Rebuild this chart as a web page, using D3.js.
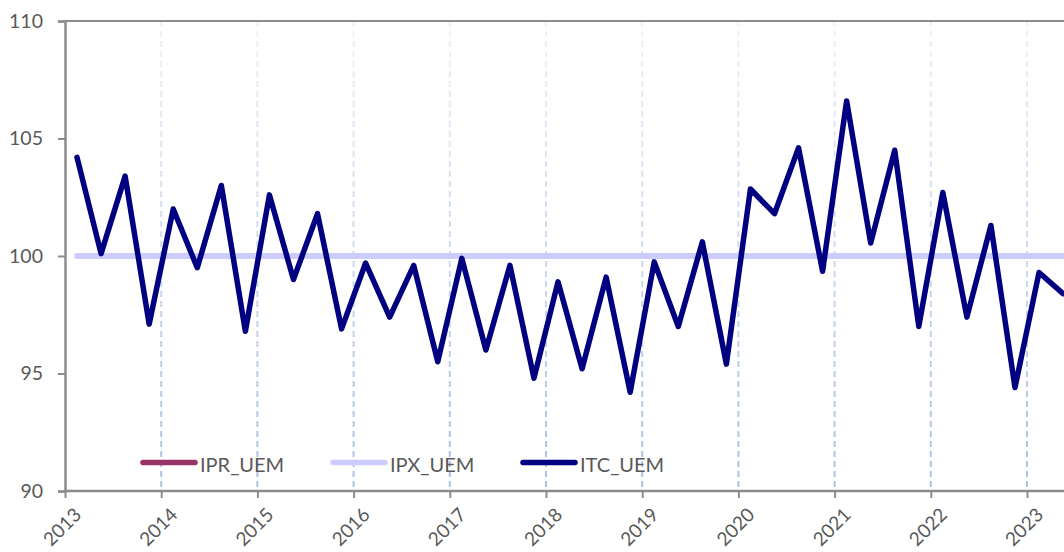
<!DOCTYPE html>
<html><head><meta charset="utf-8">
<script src="https://cdn.jsdelivr.net/npm/d3@7"></script>
<style>body{margin:0;background:#fff;}svg{display:block;}</style>
</head><body>
<svg id="c" width="1064" height="552"></svg>
<script>
const years = ["2013","2014","2015","2016","2017","2018","2019","2020","2021","2022","2023"];
const quarters = ["Q1","Q2","Q3","Q4"];
const yTicks = [90, 95, 100, 105, 110];
const seriesNames = ["IPR_UEM", "IPX_UEM", "ITC_UEM"];
const itc = [104.2,100.1,103.4,97.1,102.0,99.5,103.0,96.8,102.6,99.0,101.8,96.9,
  99.7,97.4,99.6,95.5,99.9,96.0,99.6,94.8,98.9,95.2,99.1,94.2,99.75,97.0,100.6,95.4,
  102.85,101.8,104.6,99.35,106.6,100.55,104.5,97.0,102.7,97.4,101.3,94.4,99.3,98.4];
const ipr = itc.map(() => 100);
const ipx = itc.map(() => 100);

const periods = [];
years.forEach(yr => quarters.forEach(q => periods.push(yr + q)));
const used = periods.slice(0, itc.length);

const svg = d3.select("#c");
const pL = 65, pT = 21, pB = 491, pR = 65 + 96.2 * 11;
const x = d3.scaleBand().domain(periods).range([pL, pR]);
const xYear = d3.scalePoint().domain(years).range([pL, pL + 96.2 * 10]);
const y = d3.scaleLinear().domain([90, 110]).range([pB, pT]);
const FONT = "Lato, 'Open Sans', sans-serif";

const defs = svg.append("defs");
const grad = defs.append("linearGradient").attr("id", "gg")
  .attr("gradientUnits", "userSpaceOnUse").attr("x1", 0).attr("y1", pT).attr("x2", 0).attr("y2", pB);
grad.append("stop").attr("offset", "0").attr("stop-color", "#eef3fa");
grad.append("stop").attr("offset", "1").attr("stop-color", "#a9c1df");

// vertical gridlines
svg.append("g").selectAll("line").data(years.slice(1)).join("line")
  .attr("x1", d => xYear(d)).attr("x2", d => xYear(d))
  .attr("y1", pT).attr("y2", pB)
  .attr("stroke", "url(#gg)").attr("stroke-width", 2).attr("stroke-dasharray", "6,4");

// top border
svg.append("line").attr("x1", pL).attr("x2", 1064).attr("y1", y(110)).attr("y2", y(110))
  .attr("stroke", "#8c8c8c").attr("stroke-width", 2);

// y axis
const ya = svg.append("g").attr("transform", `translate(${pL},0)`)
  .call(d3.axisLeft(y).tickValues(yTicks).tickSize(7).tickPadding(15));
ya.select(".domain").attr("stroke", "#8c8c8c").attr("stroke-width", 2.5);
ya.selectAll(".tick line").attr("stroke", "#8c8c8c").attr("stroke-width", 2);
ya.selectAll("text").attr("font-family", FONT).attr("font-size", 19.5).attr("fill", "#595959");

// x axis
const xa = svg.append("g").attr("transform", `translate(0,${pB})`)
  .call(d3.axisBottom(xYear).tickSize(7).tickSizeOuter(0));
xa.select(".domain").remove();
xa.append("line").attr("x1", pL).attr("x2", 1064).attr("stroke", "#8c8c8c").attr("stroke-width", 2.5);
xa.selectAll(".tick line").attr("stroke", "#8c8c8c").attr("stroke-width", 2);
xa.selectAll("text").attr("font-family", FONT).attr("font-size", 19).attr("fill", "#595959")
  .attr("text-anchor", "end").attr("dy", null).attr("y", 0)
  .attr("transform", "translate(17,25) rotate(-45)");

const line = d3.line().x((d, i) => x(used[i]) + x.bandwidth() / 2).y(d => y(d));
const colors = {IPR_UEM: "#993366", IPX_UEM: "#ccccff", ITC_UEM: "#000080"};
const widths = {IPR_UEM: 4.5, IPX_UEM: 6, ITC_UEM: 5.5};
const g = svg.append("g");
[[ipr, "IPR_UEM"], [ipx, "IPX_UEM"], [itc, "ITC_UEM"]].forEach(([data, name]) => {
  g.append("path").datum(data).attr("d", line).attr("fill", "none")
    .attr("stroke", colors[name]).attr("stroke-width", widths[name])
    .attr("stroke-linejoin", "round").attr("stroke-linecap", "round");
});

// legend
const legX = [143, 333, 523];
const lg = svg.append("g");
seriesNames.forEach((n, i) => {
  lg.append("line").attr("x1", legX[i]).attr("x2", legX[i] + 52).attr("y1", 462.5).attr("y2", 462.5)
    .attr("stroke", colors[n]).attr("stroke-width", 5.5).attr("stroke-linecap", "round");
  lg.append("text").attr("x", legX[i] + 57).attr("y", 472).text(n)
    .attr("font-family", FONT).attr("font-size", 20).attr("fill", "#595959");
});
</script>
</body></html>
